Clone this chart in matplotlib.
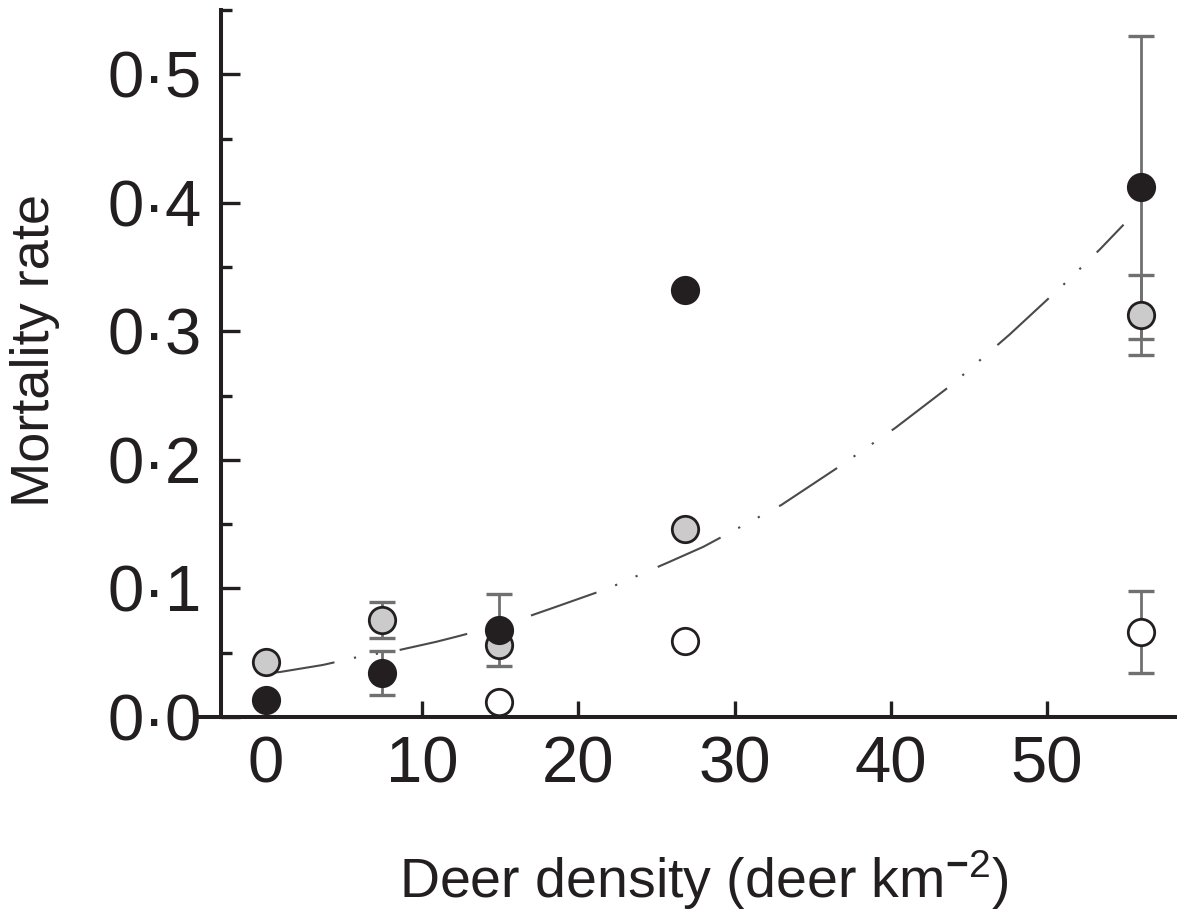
import matplotlib
matplotlib.use('Agg')
import matplotlib.pyplot as plt
from matplotlib.ticker import MultipleLocator

# deer density per site (deer km-2)
density = [0, 7.4, 14.9, 26.8, 56]

# filled black circles
black_mort = [0.013, 0.034, 0.068, 0.332, 0.412]
black_err = [0, 0.017, 0.028, 0, 0.118]

# filled grey circles
grey_mort = [0.043, 0.0755, 0.056, 0.146, 0.313]
grey_err = [0, 0.014, 0, 0, 0.031]

# open circles
open_density = [14.9, 26.8, 56]
open_mort = [0.012, 0.059, 0.066]
open_err = [0, 0, 0.032]

# fitted curve
fit_x = [0, 0.9, 3.65, 6.0, 8.5, 10.9, 12.2, 15.8, 18.4, 21.9, 25.7, 28.0,
         33.0, 36.6, 40.3, 43.9, 47.6, 51.2, 53.4, 54.9]
fit_y = [0.034, 0.035, 0.0405, 0.047, 0.052, 0.0585, 0.0625, 0.074, 0.085,
         0.100, 0.120, 0.1324, 0.165, 0.194, 0.225, 0.2585, 0.2975, 0.338,
         0.364, 0.383]

ytick_vals = [0.0, 0.1, 0.2, 0.3, 0.4, 0.5]
ytick_labels = ['0·0', '0·1', '0·2', '0·3', '0·4', '0·5']
xtick_vals = [0, 10, 20, 30, 40, 50]

ink = '#231f20'
plt.rcParams['font.family'] = ['Liberation Sans', 'DejaVu Sans']
plt.rcParams['mathtext.fontset'] = 'custom'
plt.rcParams['mathtext.rm'] = 'Liberation Sans'
plt.rcParams['mathtext.it'] = 'Liberation Sans:italic'
plt.rcParams['mathtext.bf'] = 'Liberation Sans:bold'
plt.rcParams['lines.scale_dashes'] = False

fig = plt.figure(figsize=(11.77, 9.13), dpi=100)
ax = fig.add_axes([200 / 1177, 196 / 913, 977 / 1177, 707 / 913])

ax.plot(fit_x, fit_y, color='#4a4a4a', lw=1.5,
        dashes=(50, 14.4, 1.6, 14.4, 1.6, 15.8), zorder=1)


def with_err(xs, ys, es):
    keep = [i for i in range(len(xs)) if es[i] > 0]
    return [xs[i] for i in keep], [ys[i] for i in keep], [es[i] for i in keep]


eb = dict(fmt='none', ecolor='#707070', elinewidth=2.0, capsize=9.7,
          capthick=2.4, zorder=2)
for xs, ys, es in [with_err(density, grey_mort, grey_err),
                   with_err(density, black_mort, black_err),
                   with_err(open_density, open_mort, open_err)]:
    ax.errorbar(xs, ys, yerr=es, **eb)

mk = dict(ls='none', marker='o', ms=19, mew=2.0, mec=ink, zorder=3)
ax.plot(density, grey_mort, mfc='#cbcbcb', **mk)
ax.plot(open_density, open_mort, mfc='white', **mk)
ax.plot(density, black_mort, mfc=ink, **mk)

ax.set_xlim(-4.22, 58.32)
ax.set_ylim(0, 0.55)

for s in ['top', 'right']:
    ax.spines[s].set_visible(False)
ax.spines['left'].set_position(('data', -2.88))
for s in ['left', 'bottom']:
    ax.spines[s].set_linewidth(2.9)
    ax.spines[s].set_color(ink)

ax.set_yticks(ytick_vals)
ax.set_yticklabels(ytick_labels)
ax.yaxis.set_minor_locator(MultipleLocator(0.1, offset=0.05))
ax.set_xticks(xtick_vals)

ax.tick_params(axis='y', which='major', direction='in', length=14, width=2.4,
               color=ink, labelsize=47, pad=14, labelcolor=ink)
ax.tick_params(axis='y', which='minor', direction='in', length=8, width=2.4,
               color=ink)
ax.tick_params(axis='x', which='major', direction='in', length=11.5,
               width=2.4, color=ink, labelsize=47, pad=13, labelcolor=ink)

ax.set_ylabel('Mortality rate', fontsize=39, color=ink, va='center',
              ha='center', rotation_mode='default')
ax.yaxis.set_label_coords(35 / 1177, 1 - 350 / 913, transform=fig.transFigure)
ax.set_xlabel(r'Deer density (deer km$^{\mathbf{-}2}$)', fontsize=40,
              color=ink, va='baseline')
ax.xaxis.set_label_coords(704 / 1177, 1 - 898 / 913, transform=fig.transFigure)

fig.savefig('out.png', dpi=100)
